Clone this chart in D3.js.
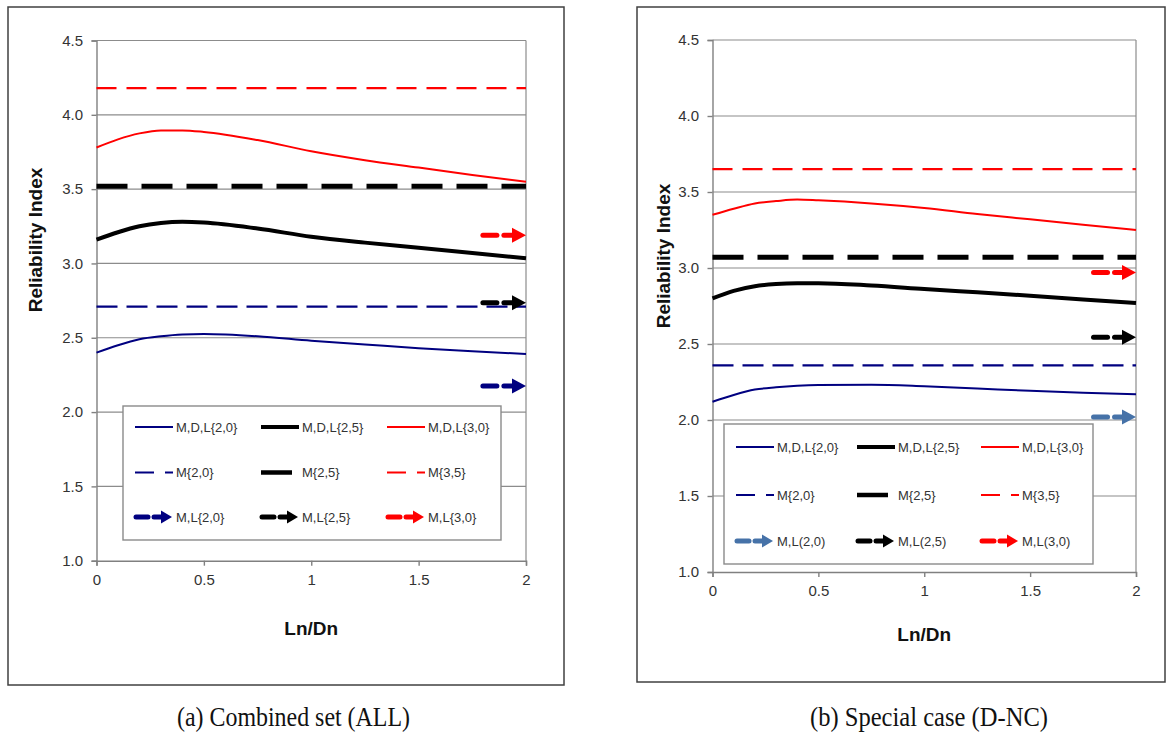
<!DOCTYPE html>
<html>
<head>
<meta charset="utf-8">
<script src="https://cdn.jsdelivr.net/npm/d3@7"></script>
<style>
  html, body { margin: 0; padding: 0; background: #fff; }
  svg { display: block; }
  text { font-family: "Liberation Sans", Arial, sans-serif; }
</style>
</head>
<body>
<svg id="chart" width="1166" height="736"></svg>
<script>
// ---------------- DATA ----------------
const xValues = [0, 0.1, 0.2, 0.3, 0.4, 0.5, 0.75, 1.0, 1.25, 1.5, 1.75, 2.0];
const xTicks = [0, 0.5, 1, 1.5, 2];
const yTicks = [1.0, 1.5, 2.0, 2.5, 3.0, 3.5, 4.0, 4.5];

// (a) Combined set (ALL)
const allMDL20 = [2.40, 2.45, 2.49, 2.51, 2.522, 2.525, 2.51, 2.48, 2.455, 2.43, 2.41, 2.39];
const allMDL25 = [3.16, 3.21, 3.25, 3.272, 3.28, 3.275, 3.235, 3.18, 3.14, 3.105, 3.07, 3.035];
const allMDL30 = [3.78, 3.835, 3.875, 3.895, 3.895, 3.885, 3.83, 3.755, 3.695, 3.645, 3.595, 3.55];
const allM = [2.71, 3.52, 4.18];          // M{2,0}, M{2,5}, M{3,5}
const allML = [2.175, 2.735, 3.19];       // M,L{2,0}, M,L{2,5}, M,L{3,0}
const allLegend = ["M,D,L{2,0}", "M,D,L{2,5}", "M,D,L{3,0}",
                   "M{2,0}", "M{2,5}", "M{3,5}",
                   "M,L{2,0}", "M,L{2,5}", "M,L{3,0}"];

// (b) Special case (D-NC)
const dncMDL20 = [2.12, 2.165, 2.20, 2.215, 2.225, 2.23, 2.232, 2.222, 2.207, 2.192, 2.18, 2.17];
const dncMDL25 = [2.80, 2.85, 2.88, 2.895, 2.90, 2.90, 2.885, 2.862, 2.84, 2.818, 2.793, 2.77];
const dncMDL30 = [3.35, 3.39, 3.425, 3.44, 3.45, 3.445, 3.425, 3.395, 3.355, 3.32, 3.285, 3.25];
const dncM = [2.36, 3.07, 3.65];
const dncML = [2.02, 2.545, 2.97];
const dncLegend = ["M,D,L{2,0}", "M,D,L{2,5}", "M,D,L{3,0}",
                   "M{2,0}", "M{2,5}", "M{3,5}",
                   "M,L(2,0)", "M,L(2,5)", "M,L(3,0)"];

const captions = ["(a) Combined set (ALL)", "(b) Special case (D-NC)"];
const yTitle = "Reliability Index";
const xTitle = "Ln/Dn";

// ---------------- LAYOUT / STYLE ----------------
const svg = d3.select("#chart");
svg.append("rect").attr("width", 1166).attr("height", 736).attr("fill", "#fff");

const panels = [
  {
    frame: {x: 8, y: 7, w: 556, h: 678},
    plot: {x0: 96.5, x1: 526, y0: 40.5, y1: 560.7},
    mdl: [allMDL20, allMDL25, allMDL30],
    m: allM, ml: allML, legend: allLegend,
    mlColors: ["#000080", "#000000", "#ff0000"],
    legendBox: {x: 123, y: 406, w: 378, h: 134},
    legendCols: [135, 261, 387], legendRows: [427, 472.5, 517],
    yTitlePos: {x: 35, y: 240},
    xTitleY: 635,
    caption: {x: 293.5, y: 726, len: 233, text: captions[0]}
  },
  {
    frame: {x: 637, y: 7, w: 528, h: 675},
    plot: {x0: 712.5, x1: 1136, y0: 40, y1: 572},
    mdl: [dncMDL20, dncMDL25, dncMDL30],
    m: dncM, ml: dncML, legend: dncLegend,
    mlColors: ["#4672a8", "#000000", "#ff0000"],
    legendBox: {x: 724, y: 424, w: 369, h: 140},
    legendCols: [736, 857, 981], legendRows: [447, 495, 541],
    yTitlePos: {x: 663, y: 256},
    xTitleY: 641,
    caption: {x: 929, y: 726, len: 238, text: captions[1]}
  }
];

const lineColors = ["#000080", "#000000", "#ff0000"];
const mdlWidths = [2, 4, 2];
const mWidths = [2.2, 5, 2.2];
const mDash = ["21,9", "31,14", "20,10"];

function arrowPath(g, xStart, xEnd, y, color, opts) {
  const headLen = opts.headLen, headH = opts.headH;
  const shaftEnd = xEnd - headLen;
  g.append("line")
    .attr("x1", xStart + 2).attr("x2", xStart + opts.dash)
    .attr("y1", y).attr("y2", y)
    .attr("stroke", color).attr("stroke-width", opts.sw).attr("stroke-linecap", "round");
  g.append("line")
    .attr("x1", xStart + opts.dash + opts.gap + 2).attr("x2", shaftEnd + 1)
    .attr("y1", y).attr("y2", y)
    .attr("stroke", color).attr("stroke-width", opts.sw).attr("stroke-linecap", "round");
  g.append("path")
    .attr("d", `M${shaftEnd},${y - headH / 2}L${xEnd},${y}L${shaftEnd},${y + headH / 2}Z`)
    .attr("fill", color);
}

panels.forEach(p => {
  const g = svg.append("g");
  g.append("rect").attr("x", p.frame.x).attr("y", p.frame.y)
    .attr("width", p.frame.w).attr("height", p.frame.h)
    .attr("fill", "#fff").attr("stroke", "#404040").attr("stroke-width", 1.5);

  const x = d3.scaleLinear().domain([0, 2]).range([p.plot.x0, p.plot.x1]);
  const y = d3.scaleLinear().domain([1, 4.5]).range([p.plot.y1, p.plot.y0]);

  g.append("g").selectAll("line").data(yTicks.filter(t => t > 1)).join("line")
    .attr("x1", x(0)).attr("x2", x(2))
    .attr("y1", d => y(d)).attr("y2", d => y(d))
    .attr("stroke", "#8c8c8c").attr("stroke-width", 1.2);
  g.append("line").attr("x1", x(2)).attr("x2", x(2)).attr("y1", y(4.5)).attr("y2", y(1))
    .attr("stroke", "#8c8c8c").attr("stroke-width", 1.2);

  const yAxis = g.append("g").attr("transform", `translate(${x(0)},0)`)
    .call(d3.axisLeft(y).tickValues(yTicks).tickFormat(d3.format(".1f")).tickSize(5).tickPadding(8.5));
  const xAxis = g.append("g").attr("transform", `translate(0,${y(1)})`)
    .call(d3.axisBottom(x).tickValues(xTicks).tickFormat(d => String(d)).tickSize(5).tickPadding(8.5));
  [yAxis, xAxis].forEach(a => {
    a.selectAll("path").attr("stroke", "#808080").attr("stroke-width", 1.4);
    a.selectAll("line").attr("stroke", "#808080").attr("stroke-width", 1.4);
    a.selectAll("text").attr("fill", "#333").style("font-size", "15px")
      .style("font-family", "'Liberation Sans', Arial, sans-serif");
  });

  const plotG = g.append("g");
  const lineGen = d3.line().x((d, i) => x(xValues[i])).y(d => y(d)).curve(d3.curveMonotoneX);

  p.m.forEach((v, i) => {
    plotG.append("path")
      .attr("d", d3.line().x(d => x(d[0])).y(d => y(d[1]))([[0, v], [2, v]]))
      .attr("fill", "none").attr("stroke", lineColors[i])
      .attr("stroke-width", mWidths[i]).attr("stroke-dasharray", mDash[i]);
  });
  p.mdl.forEach((arr, i) => {
    plotG.append("path").attr("d", lineGen(arr))
      .attr("fill", "none").attr("stroke", lineColors[i])
      .attr("stroke-width", mdlWidths[i]).attr("stroke-linejoin", "round");
  });
  p.ml.forEach((v, i) => {
    arrowPath(plotG, x(1.79), x(2), y(v), p.mlColors[i], {dash: 16, gap: 5, headLen: 14, headH: 15, sw: 5});
  });

  const lb = p.legendBox;
  const lg = g.append("g");
  lg.append("rect").attr("x", lb.x).attr("y", lb.y).attr("width", lb.w).attr("height", lb.h)
    .attr("fill", "#fff").attr("stroke", "#8a8a8a").attr("stroke-width", 1.4);
  const sampleLen = 38;
  p.legend.forEach((label, k) => {
    const row = Math.floor(k / 3), col = k % 3;
    const lx = p.legendCols[col], ly = p.legendRows[row];
    if (row === 0) {
      lg.append("line").attr("x1", lx).attr("x2", lx + sampleLen).attr("y1", ly).attr("y2", ly)
        .attr("stroke", lineColors[col]).attr("stroke-width", mdlWidths[col]);
    } else if (row === 1) {
      lg.append("line").attr("x1", lx).attr("x2", lx + sampleLen).attr("y1", ly).attr("y2", ly)
        .attr("stroke", lineColors[col]).attr("stroke-width", col === 1 ? 4.5 : 2)
        .attr("stroke-dasharray", col === 1 ? "31,20" : "19,11");
    } else {
      arrowPath(lg, lx - 1, lx + sampleLen - 1, ly, p.mlColors[col], {dash: 14, gap: 4, headLen: 11, headH: 13, sw: 5});
    }
    lg.append("text").attr("x", lx + sampleLen + 3).attr("y", ly).attr("dy", "0.35em")
      .attr("fill", "#333").style("font-size", "13px").text(label);
  });

  g.append("text").attr("transform", `translate(${p.yTitlePos.x},${p.yTitlePos.y}) rotate(-90)`)
    .attr("text-anchor", "middle").attr("dy", "0.35em")
    .style("font-size", "19px").style("font-weight", "bold").attr("fill", "#111").text(yTitle);
  g.append("text").attr("x", (p.plot.x0 + p.plot.x1) / 2).attr("y", p.xTitleY)
    .attr("text-anchor", "middle")
    .style("font-size", "19px").style("font-weight", "bold").attr("fill", "#111").text(xTitle);

  svg.append("text").attr("x", p.caption.x).attr("y", p.caption.y)
    .attr("text-anchor", "middle")
    .attr("textLength", p.caption.len).attr("lengthAdjust", "spacingAndGlyphs")
    .style("font-family", "'Liberation Serif', 'Times New Roman', serif")
    .style("font-size", "27px").attr("fill", "#111").text(p.caption.text);
});
</script>
</body>
</html>
